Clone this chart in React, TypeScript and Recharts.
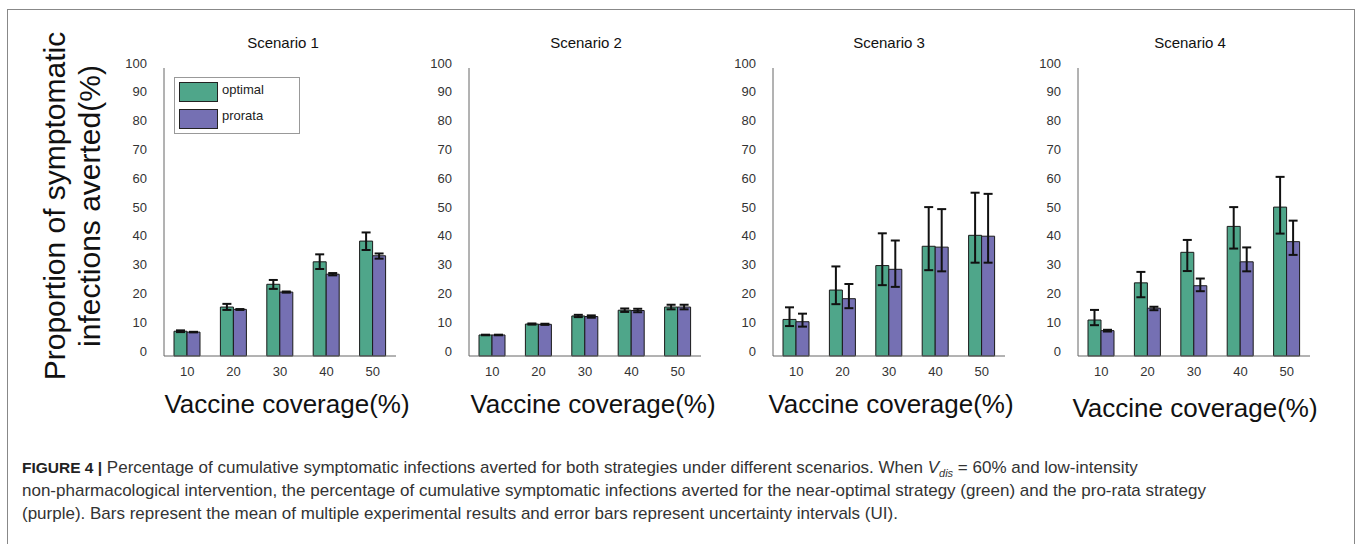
import React from "react";
import { BarChart, Bar, XAxis, YAxis, ErrorBar } from "recharts";

const coverage = ["10", "20", "30", "40", "50"];
const yTicks = [0, 10, 20, 30, 40, 50, 60, 70, 80, 90, 100];
const scenarios = ["Scenario 1", "Scenario 2", "Scenario 3", "Scenario 4"];

// scenario 1
const s1Opt = [8.6, 17.0, 24.9, 32.7, 39.9];
const s1OptLo = [8.3, 16.0, 23.3, 30.2, 36.8];
const s1OptHi = [8.9, 18.1, 26.4, 35.3, 42.9];
const s1Pro = [8.3, 16.2, 22.2, 28.4, 34.8];
const s1ProLo = [8.2, 16.0, 22.0, 28.0, 33.8];
const s1ProHi = [8.4, 16.3, 22.4, 28.8, 35.6];

// scenario 2
const s2Opt = [7.3, 11.1, 13.9, 15.9, 17.0];
const s2OptLo = [7.2, 10.9, 13.5, 15.3, 16.2];
const s2OptHi = [7.4, 11.3, 14.3, 16.5, 17.8];
const s2Pro = [7.3, 11.0, 13.7, 15.8, 17.0];
const s2ProLo = [7.2, 10.8, 13.3, 15.2, 16.2];
const s2ProHi = [7.4, 11.2, 14.1, 16.4, 17.8];

// scenario 3
const s3Opt = [12.7, 22.9, 31.4, 38.1, 41.9];
const s3OptLo = [10.4, 18.0, 24.6, 29.8, 32.4];
const s3OptHi = [16.9, 31.1, 42.6, 51.7, 56.7];
const s3Pro = [11.9, 19.9, 30.1, 37.8, 41.6];
const s3ProLo = [10.2, 16.6, 24.0, 29.4, 32.4];
const s3ProHi = [14.7, 25.0, 40.1, 51.0, 56.3];

// scenario 4
const s4Opt = [12.5, 25.4, 36.0, 45.0, 51.7];
const s4OptLo = [10.7, 20.4, 29.5, 37.3, 42.5];
const s4OptHi = [16.0, 29.2, 40.3, 51.7, 62.2];
const s4Pro = [8.8, 16.6, 24.4, 32.7, 39.7];
const s4ProLo = [8.5, 15.9, 22.5, 29.4, 35.1];
const s4ProHi = [9.1, 17.1, 26.9, 37.7, 47.0];

const series = [
  [s1Opt, s1OptLo, s1OptHi, s1Pro, s1ProLo, s1ProHi],
  [s2Opt, s2OptLo, s2OptHi, s2Pro, s2ProLo, s2ProHi],
  [s3Opt, s3OptLo, s3OptHi, s3Pro, s3ProLo, s3ProHi],
  [s4Opt, s4OptLo, s4OptHi, s4Pro, s4ProLo, s4ProHi],
];

const GREEN = "#4fa68a";
const PURPLE = "#7570b3";
const FONT = "'Liberation Sans', Arial, sans-serif";

// layout of the four panels (plot-area left edge, label centers)
const plotLeft = [164, 469, 773, 1078];
const titleX = [283, 586, 889, 1190];
const xLabelX = [287, 593, 891, 1195];
const xLabelTop = [391, 391, 391, 395];

function buildData(idx: number) {
  const [opt, optLo, optHi, pro, proLo, proHi] = series[idx];
  return coverage.map((c, i) => ({
    cov: c,
    optimal: opt[i],
    prorata: pro[i],
    optErr: [opt[i] - optLo[i], optHi[i] - opt[i]],
    proErr: [pro[i] - proLo[i], proHi[i] - pro[i]],
  }));
}

const YTick = (props: any) => (
  <text
    x={props.x - 17}
    y={props.y - 5}
    textAnchor="end"
    dominantBaseline="central"
    fontSize={13}
    fill="#333"
    fontFamily={FONT}
  >
    {props.payload.value}
  </text>
);

const XTick = (props: any) => (
  <text
    x={props.x}
    y={props.y + 15}
    textAnchor="middle"
    dominantBaseline="central"
    fontSize={13}
    fill="#333"
    fontFamily={FONT}
  >
    {props.payload.value}
  </text>
);

function Panel({ idx }: { idx: number }) {
  const data = buildData(idx);
  return (
    <div style={{ position: "absolute", left: plotLeft[idx] - 60, top: 30 }}>
      <BarChart
        width={302}
        height={400}
        data={data}
        margin={{ top: 38, right: 10, bottom: 0, left: 0 }}
        barGap={0}
        barSize={13}
      >
        <XAxis
          dataKey="cov"
          height={74}
          tickLine={false}
          tickSize={0}
          tickMargin={0}
          tick={<XTick />}
          axisLine={{ stroke: "#666", strokeWidth: 1 }}
        />
        <XAxis
          xAxisId="top"
          dataKey="cov"
          orientation="top"
          height={0}
          mirror
          tick={false}
          tickSize={3}
          tickLine={{ stroke: "#888" }}
          axisLine={{ stroke: "#999", strokeWidth: 1 }}
        />
        <YAxis
          width={60}
          domain={[0, 100]}
          ticks={yTicks}
          interval={0}
          tickLine={false}
          tickSize={0}
          tickMargin={0}
          tick={<YTick />}
          axisLine={{ stroke: "#666", strokeWidth: 1 }}
        />
        <YAxis
          yAxisId="right"
          orientation="right"
          width={0}
          domain={[0, 100]}
          ticks={yTicks}
          interval={0}
          mirror
          tick={false}
          tickSize={3}
          tickLine={{ stroke: "#888" }}
          axisLine={{ stroke: "#999", strokeWidth: 1 }}
        />
        <Bar dataKey="optimal" fill={GREEN} stroke="#1a1a1a" strokeWidth={1} isAnimationActive={false}>
          <ErrorBar dataKey="optErr" width={4.5} stroke="#111" strokeWidth={2} direction="y" />
        </Bar>
        <Bar dataKey="prorata" fill={PURPLE} stroke="#1a1a1a" strokeWidth={1} isAnimationActive={false}>
          <ErrorBar dataKey="proErr" width={4.5} stroke="#111" strokeWidth={2} direction="y" />
        </Bar>
      </BarChart>
    </div>
  );
}

function LegendBox() {
  const sw = (c: string) => ({
    position: "absolute" as const,
    left: 4,
    width: 39,
    height: 20,
    background: c,
    border: "1px solid #222",
    boxSizing: "border-box" as const,
  });
  const txt = {
    position: "absolute" as const,
    left: 47,
    fontSize: 13,
    fontFamily: FONT,
    color: "#222",
    lineHeight: "14px",
  };
  return (
    <div
      style={{
        position: "absolute",
        left: 174,
        top: 77,
        width: 126,
        height: 57,
        border: "1px solid #999",
        background: "#fff",
        boxSizing: "border-box",
      }}
    >
      <div style={{ ...sw(GREEN), top: 4 }} />
      <div style={{ ...txt, top: 5 }}>optimal</div>
      <div style={{ ...sw(PURPLE), top: 31 }} />
      <div style={{ ...txt, top: 31 }}>prorata</div>
    </div>
  );
}

export default function App() {
  return (
    <div
      style={{
        position: "absolute",
        left: 0,
        top: 0,
        width: 1360,
        height: 544,
        overflow: "hidden",
        background: "#fff",
        fontFamily: FONT,
      }}
    >
      <div
        style={{
          position: "absolute",
          left: 7,
          top: 9,
          width: 1348,
          height: 600,
          border: "1.5px solid #888",
          boxSizing: "border-box",
        }}
      />
      <div
        style={{
          position: "absolute",
          left: 72 - 200,
          top: 206 - 35,
          width: 400,
          height: 70,
          transform: "rotate(-90deg)",
          textAlign: "center",
          fontSize: 30,
          lineHeight: "35px",
          color: "#111",
        }}
      >
        Proportion of symptomatic
        <br />
        infections averted(%)
      </div>
      {scenarios.map((s, i) => (
        <div
          key={s}
          style={{
            position: "absolute",
            left: titleX[i] - 60,
            top: 34,
            width: 120,
            textAlign: "center",
            fontSize: 15,
            lineHeight: "18px",
            color: "#111",
          }}
        >
          {s}
        </div>
      ))}
      {scenarios.map((s, i) => (
        <Panel key={s} idx={i} />
      ))}
      {scenarios.map((s, i) => (
        <div
          key={"xl" + s}
          style={{
            position: "absolute",
            left: xLabelX[i] - 150,
            top: xLabelTop[i],
            width: 300,
            textAlign: "center",
            fontSize: 26,
            lineHeight: "26px",
            color: "#111",
          }}
        >
          Vaccine coverage(%)
        </div>
      ))}
      <LegendBox />
      <div
        style={{
          position: "absolute",
          left: 22,
          top: 456,
          width: 1330,
          fontSize: 17,
          lineHeight: "23px",
          color: "#333",
          whiteSpace: "nowrap",
        }}
      >
        <b style={{ color: "#222", fontSize: 15.5 }}>FIGURE 4 |</b> Percentage of cumulative symptomatic infections
        averted for both strategies under different scenarios. When <i>V</i>
        <sub style={{ fontSize: 11, lineHeight: 0 }}>
          <i>dis</i>
        </sub>{" "}
        = 60% and low-intensity
        <br />
        non-pharmacological intervention, the percentage of cumulative symptomatic infections averted for the
        near-optimal strategy (green) and the pro-rata strategy
        <br />
        (purple). Bars represent the mean of multiple experimental results and error bars represent uncertainty
        intervals (UI).
      </div>
    </div>
  );
}
